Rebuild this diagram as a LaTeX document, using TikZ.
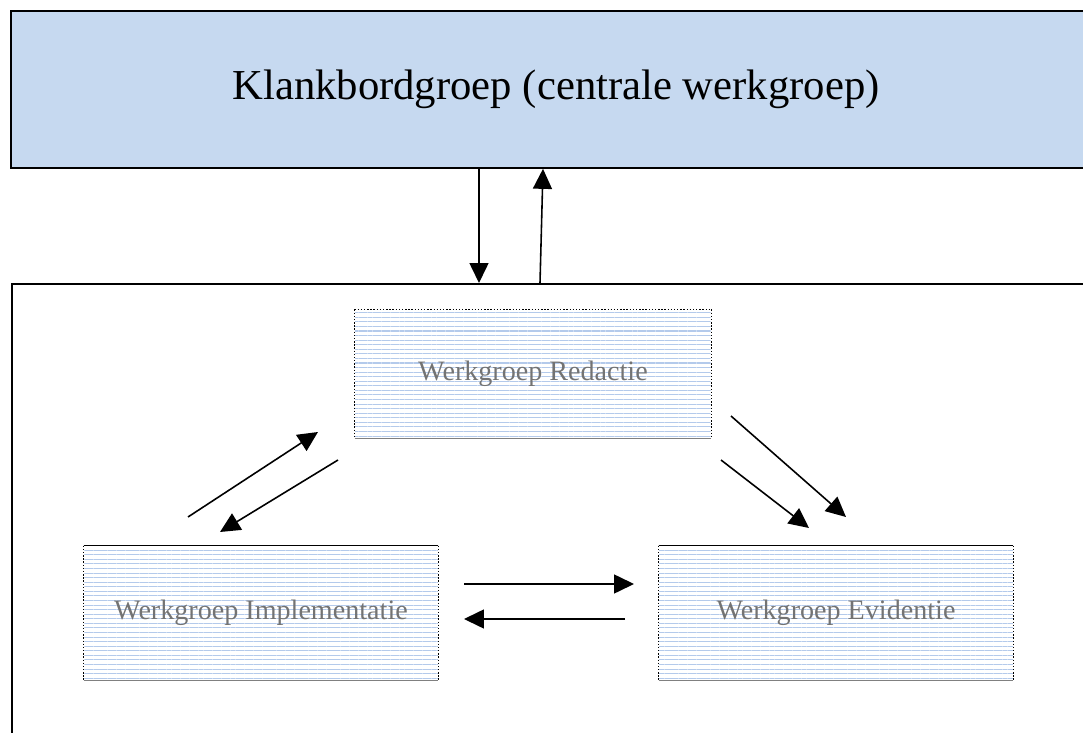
\documentclass[tikz,border=0pt]{standalone}
\usepackage{fontspec}
\setmainfont{Liberation Serif}
\usetikzlibrary{arrows.meta,patterns.meta}
\definecolor{topfill}{RGB}{198,217,240}
\definecolor{lineblue}{RGB}{180,202,235}

\begin{document}
\begin{tikzpicture}[x=0.02cm, y=-0.02cm, >={Triangle[length=0.4cm,width=0.38cm]},
    arr/.style={->, line width=0.9pt},
    wgbox/.style={minimum width=7.1cm, minimum height=2.6cm, inner sep=0pt,
        pattern={Lines[angle=0,distance=2.6pt,line width=0.6pt]}, pattern color=lineblue,
        font=\fontsize{16}{19}\selectfont, text=black!55}]
  \clip (0,0) rectangle (1083,733);
  % bovenste blok
  \node[draw, line width=1pt, fill=topfill, minimum width=21.8cm, minimum height=3.14cm,
        font=\fontsize{24.3}{28}\selectfont] (klank) at (556,89.5) {Klankbordgroep (centrale werkgroep)};
  \node[draw, line width=1pt, minimum width=21.8cm, minimum height=10cm, anchor=north west] (kader) at (11,283) {};
  \draw[arr] (klank.south -| 479,0) -- (kader.north -| 479,0);
  \draw[arr] (kader.north -| 540,0) -- (klank.south -| 543,0);
  % werkgroepen
  \node[wgbox, minimum width=7.12cm, minimum height=2.56cm] (red) at (533,374) {Werkgroep Redactie};
  \node[wgbox, minimum width=7.08cm, minimum height=2.68cm] (imp) at (261,613) {Werkgroep Implementatie};
  \node[wgbox, minimum width=7.08cm, minimum height=2.68cm] (evi) at (836,613) {Werkgroep Evidentie};
  \foreach \n in {red,imp,evi}{
    \draw[densely dotted, line width=0.8pt] (\n.north west) -- (\n.south west);
    \draw[densely dotted, line width=0.8pt] (\n.north east) -- (\n.south east);
    \draw[gray, line width=0.8pt] (\n.south west) -- (\n.south east);
  }
  \draw[densely dotted, line width=0.8pt] (red.north west) -- (red.north east);
  \draw[line width=0.8pt] (imp.north west) -- (imp.north east);
  \draw[line width=0.8pt] (evi.north west) -- (evi.north east);
  % pijlen
  \coordinate (a1) at (188,517); \coordinate (b1) at (318,432);
  \coordinate (a2) at (338,460); \coordinate (b2) at (220,532);
  \coordinate (a3) at (731,416); \coordinate (b3) at (846,517);
  \coordinate (a4) at (721,460); \coordinate (b4) at (809,528);
  \coordinate (a5) at (464,584); \coordinate (b5) at (634,584);
  \coordinate (a6) at (625,619); \coordinate (b6) at (464,619);
  \foreach \i in {1,...,6} \draw[arr] (a\i) -- (b\i);
\end{tikzpicture}
\end{document}
